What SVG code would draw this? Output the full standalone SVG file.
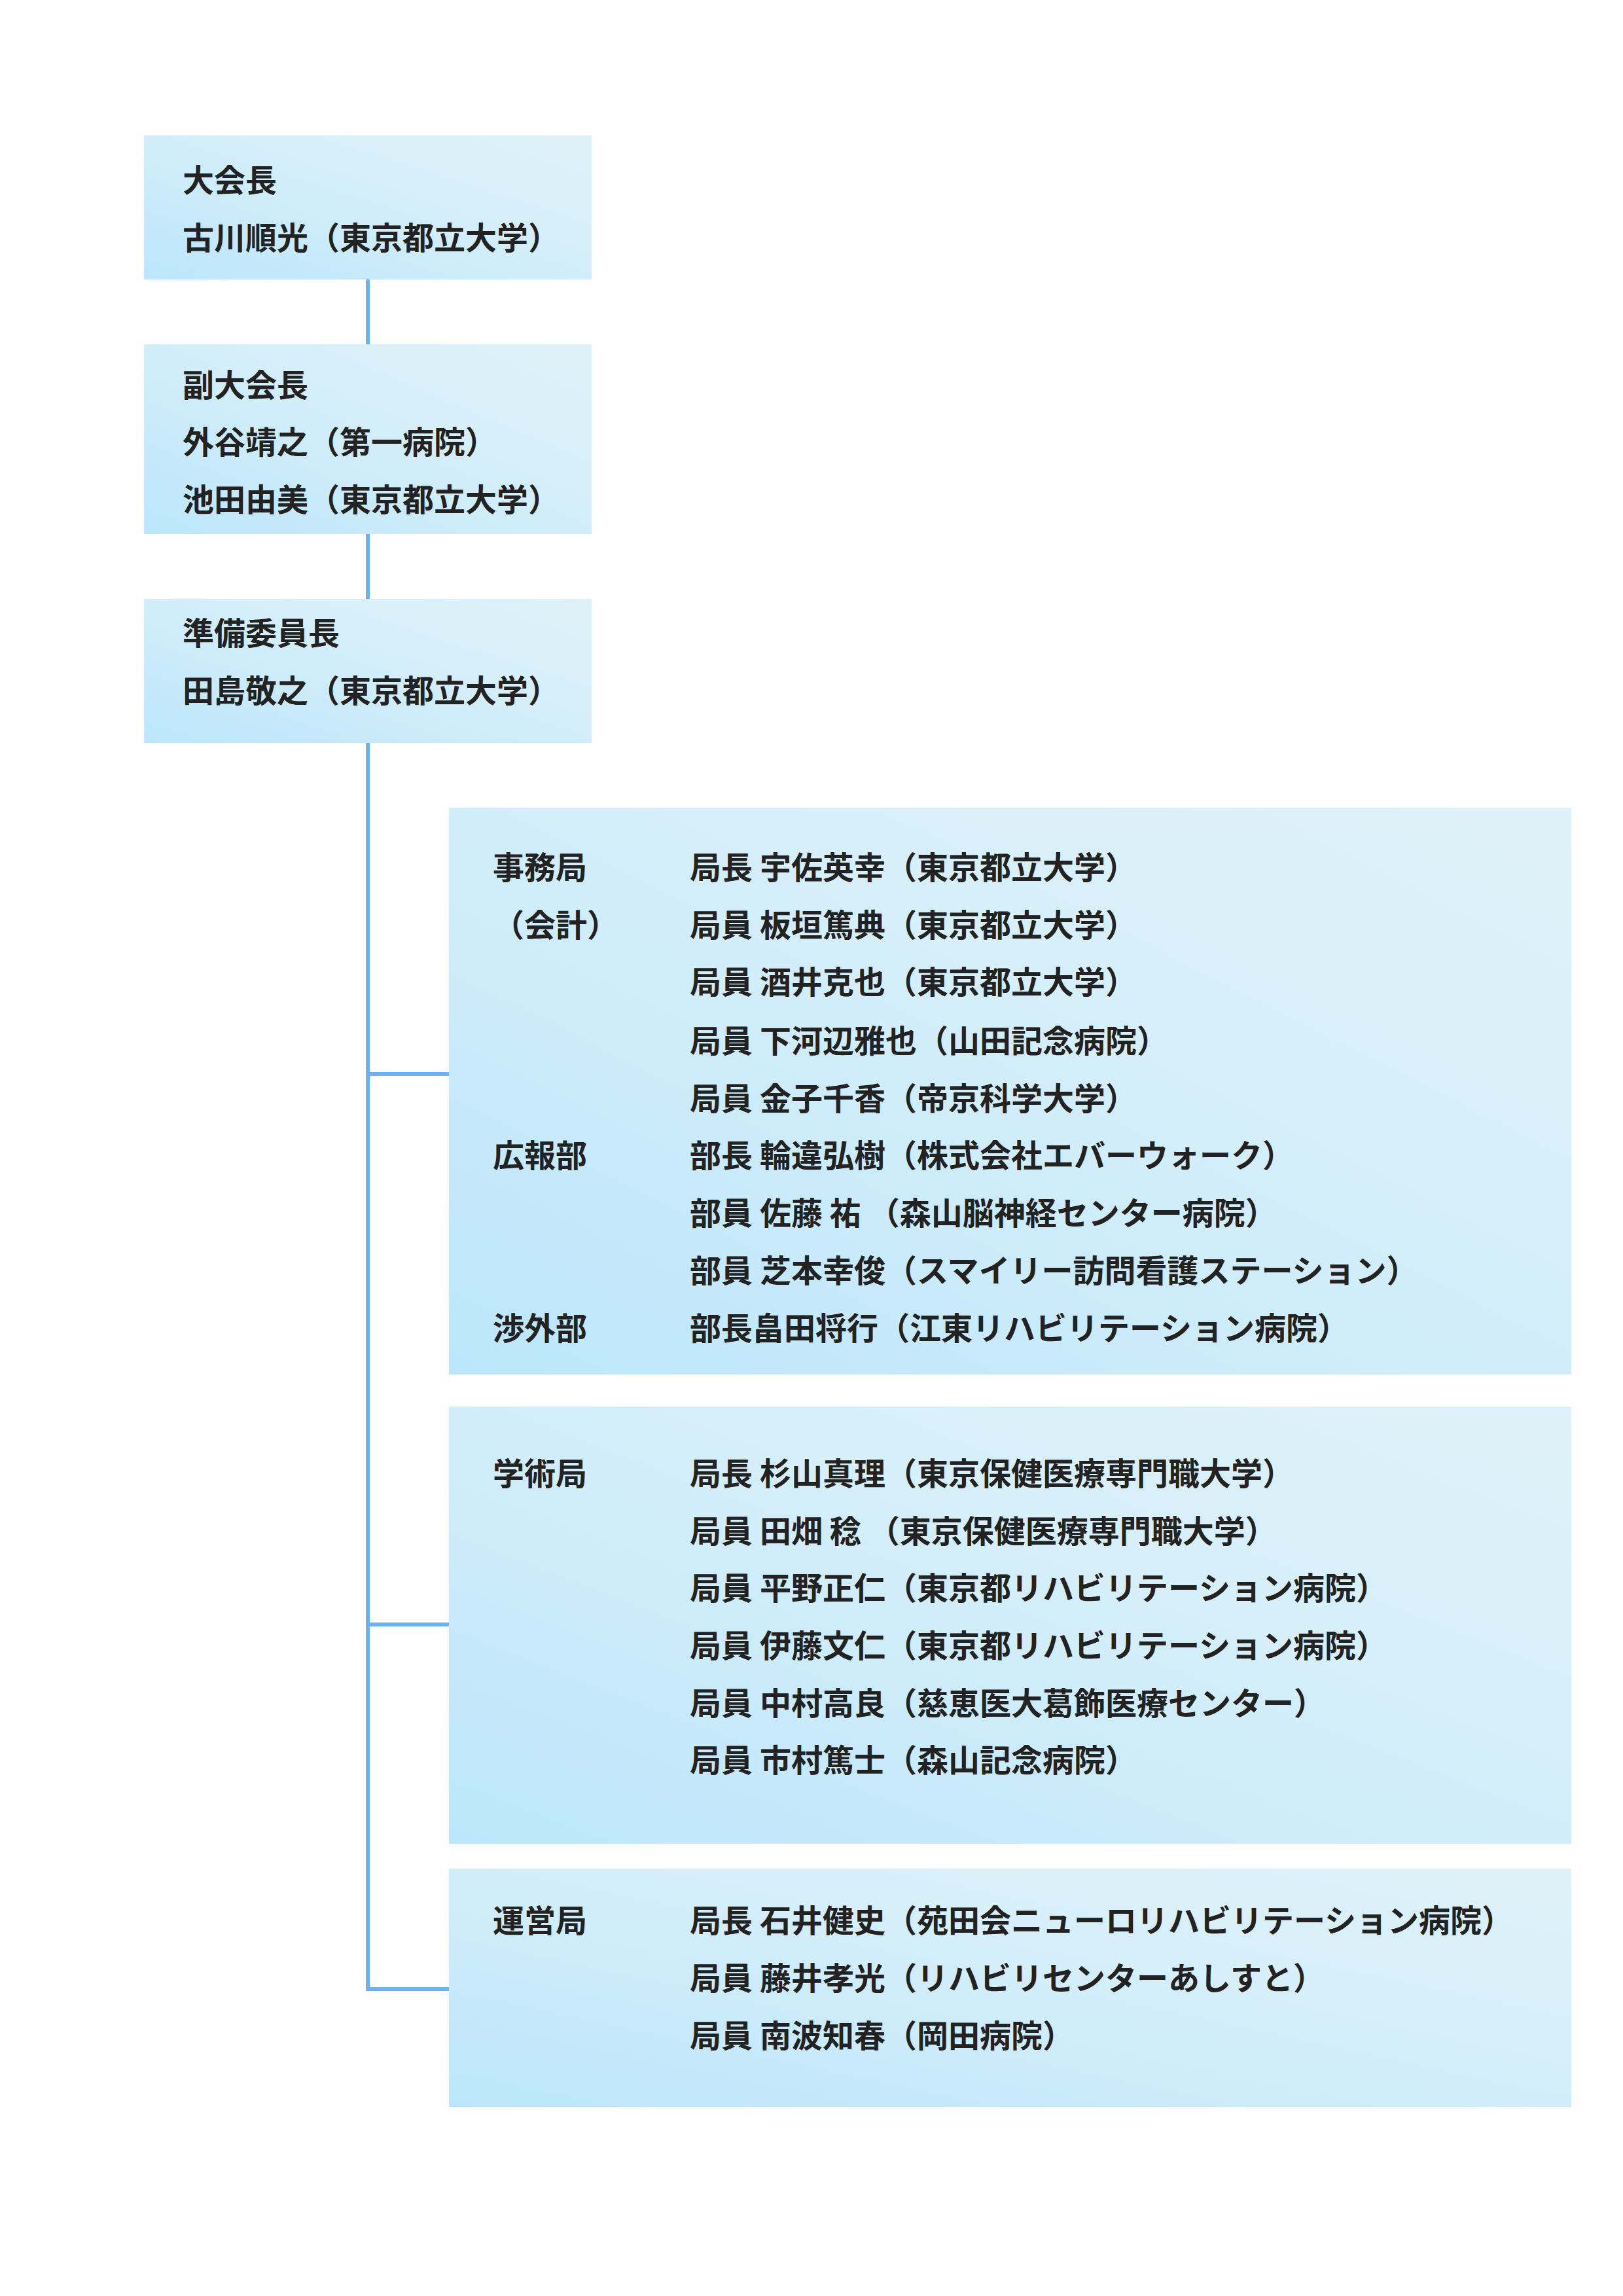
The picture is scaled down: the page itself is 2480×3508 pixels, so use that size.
<svg xmlns="http://www.w3.org/2000/svg" width="2480" height="3508" viewBox="0 0 2480 3508">
<defs>
<linearGradient id="g" x1="0" y1="1" x2="1" y2="0">
<stop offset="0" stop-color="#bce6fb"/>
<stop offset="0.6" stop-color="#d6eff9"/>
<stop offset="1" stop-color="#def1f8"/>
</linearGradient>
<style>
.b{fill:url(#g)}
text{font-family:"Noto Sans CJK JP",sans-serif;font-weight:700;font-size:48px;fill:#222;dominant-baseline:central}
.c{stroke:#6cb2f2;stroke-width:6;fill:none}
</style>
</defs>
<g id="connectors">
<line class="c" x1="562" y1="427" x2="562" y2="526"/>
<line class="c" x1="562" y1="816" x2="562" y2="915"/>
<path class="c" d="M562 1135 V3039 H686 M562 1641 H686 M562 2482 H686"/>
</g>
<g id="president"><rect class="b" x="220" y="207" width="684" height="220"/>
<text x="279" y="272">大会長</text><text x="279" y="360">古川順光（東京都立大学）</text></g>
<g id="vice"><rect class="b" x="220" y="526" width="684" height="290"/>
<text x="279" y="585">副大会長</text><text x="279" y="672">外谷靖之（第一病院）</text><text x="279" y="760">池田由美（東京都立大学）</text></g>
<g id="chair"><rect class="b" x="220" y="915" width="684" height="220"/>
<text x="279" y="964">準備委員長</text><text x="279" y="1052">田島敬之（東京都立大学）</text></g>
<g id="office"><rect class="b" x="686" y="1234" width="1715" height="866"/>
<text x="753" y="1322">事務局</text><text x="753" y="1410">（会計）</text><text x="753" y="1762">広報部</text><text x="753" y="2026">渉外部</text>
<text x="1054" y="1322">局長 宇佐英幸（東京都立大学）</text>
<text x="1054" y="1410">局員 板垣篤典（東京都立大学）</text>
<text x="1054" y="1497">局員 酒井克也（東京都立大学）</text>
<text x="1054" y="1587">局員 下河辺雅也（山田記念病院）</text>
<text x="1054" y="1675">局員 金子千香（帝京科学大学）</text>
<text x="1054" y="1762">部長 輪違弘樹（株式会社エバーウォーク）</text>
<text x="1054" y="1850">部員 佐藤 祐 （森山脳神経センター病院）</text>
<text x="1054" y="1938">部員 芝本幸俊（スマイリー訪問看護ステーション）</text>
<text x="1054" y="2026">部長畠田将行（江東リハビリテーション病院）</text></g>
<g id="academic"><rect class="b" x="686" y="2149" width="1715" height="668"/>
<text x="753" y="2248">学術局</text>
<text x="1054" y="2248">局長 杉山真理（東京保健医療専門職大学）</text>
<text x="1054" y="2336">局員 田畑 稔 （東京保健医療専門職大学）</text>
<text x="1054" y="2423">局員 平野正仁（東京都リハビリテーション病院）</text>
<text x="1054" y="2511">局員 伊藤文仁（東京都リハビリテーション病院）</text>
<text x="1054" y="2599">局員 中村高良（慈恵医大葛飾医療センター）</text>
<text x="1054" y="2686">局員 市村篤士（森山記念病院）</text></g>
<g id="operations"><rect class="b" x="686" y="2855" width="1715" height="364"/>
<text x="753" y="2931">運営局</text>
<text x="1054" y="2931">局長 石井健史（苑田会ニューロリハビリテーション病院）</text>
<text x="1054" y="3019">局員 藤井孝光（リハビリセンターあしすと）</text>
<text x="1054" y="3107">局員 南波知春（岡田病院）</text></g>
</svg>
